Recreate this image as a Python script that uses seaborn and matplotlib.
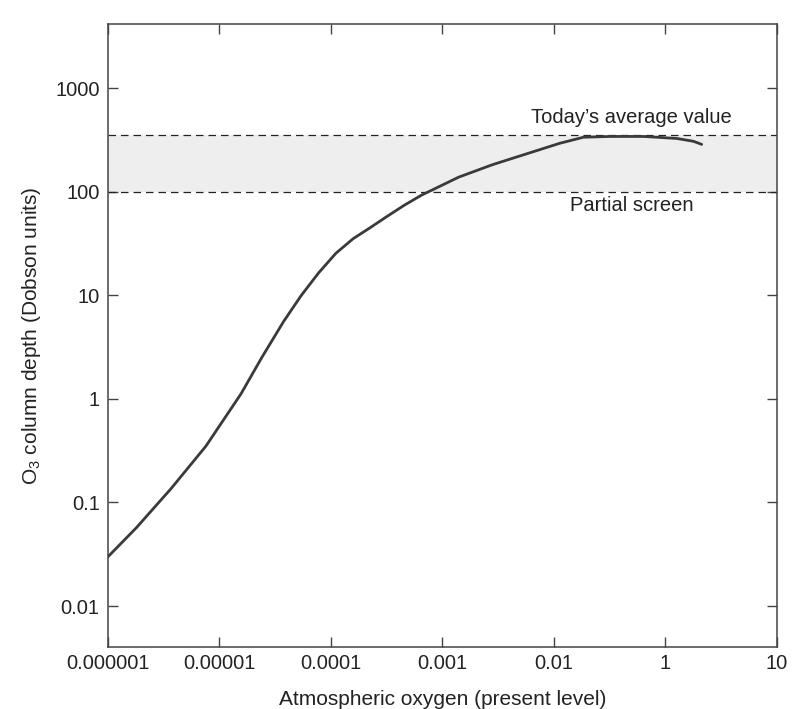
import numpy as np
import pandas as pd
import matplotlib
matplotlib.use("Agg")
import matplotlib.pyplot as plt
import seaborn as sns
from matplotlib.ticker import FixedLocator, FixedFormatter, NullLocator

# ---- data ----
oxygen = [1.0e-6, 1.8e-6, 3.68e-6, 7.55e-6, 1.56e-5, 2.4e-5, 3.75e-5, 5.4e-5,
          7.74e-5, 1.107e-4, 1.58e-4, 2.25e-4, 3.19e-4, 4.54e-4, 6.47e-4,
          1.40e-3, 2.81e-3, 5.64e-3, 1.13e-2, 1.84e-2, 3.19e-2, 6.37e-2,
          0.127, 0.179, 0.212]
ozone = [0.0299, 0.0571, 0.136, 0.349, 1.117, 2.51, 5.55, 9.91,
         16.4, 25.4, 35.1, 44.9, 57.7, 73.8, 92.3,
         138, 182, 231, 293, 335, 341, 341,
         326, 306, 286]

today_value = 355      # upper dashed line
partial_value = 100    # lower dashed line

x_tick_values = [1e-6, 1e-5, 1e-4, 1e-3, 1e-2, 1e-1, 1e0]
x_tick_labels = ["0.000001", "0.00001", "0.0001", "0.001", "0.01", "1", "10"]
y_tick_values = [0.01, 0.1, 1, 10, 100, 1000]
y_tick_labels = ["0.01", "0.1", "1", "10", "100", "1000"]

x_label = "Atmospheric oxygen (present level)"
y_label = r"O$_\mathregular{3}$ column depth (Dobson units)"
label_today = "Today\u2019s average value"
label_partial = "Partial screen"

# ---- plot ----
sns.set_theme(style="ticks")
plt.rcParams["font.family"] = ["Liberation Sans", "DejaVu Sans"]

fig = plt.figure(figsize=(8.0, 7.09), dpi=100)
ax = fig.add_axes([0.135, 0.0874, 0.836, 0.879])

df = pd.DataFrame({"oxygen": oxygen, "ozone": ozone})

ax.axhspan(partial_value, today_value, color="#eeeeee", lw=0, zorder=0)
ax.axhline(today_value, ls=(0, (6, 4)), color="#222222", lw=0.9, zorder=1)
ax.axhline(partial_value, ls=(0, (6, 4)), color="#222222", lw=0.9, zorder=1)

sns.lineplot(data=df, x="oxygen", y="ozone", ax=ax, color="#3a3a3a",
             lw=2.0, zorder=3)

ax.set_xscale("log")
ax.set_yscale("log")
ax.set_xlim(1e-6, 1e0)
ax.set_ylim(10 ** -2.396, 10 ** 3.62)

ax.xaxis.set_major_locator(FixedLocator(x_tick_values))
ax.xaxis.set_major_formatter(FixedFormatter(x_tick_labels))
ax.xaxis.set_minor_locator(NullLocator())
ax.yaxis.set_major_locator(FixedLocator(y_tick_values))
ax.yaxis.set_major_formatter(FixedFormatter(y_tick_labels))
ax.yaxis.set_minor_locator(NullLocator())

ax.tick_params(axis="both", which="major", direction="in", length=7,
               width=1.0, top=True, right=True, labelsize=14.5,
               color="#444444", labelcolor="#222222")
ax.tick_params(axis="x", pad=5)
ax.tick_params(axis="y", pad=6)

for s in ax.spines.values():
    s.set_color("#444444")
    s.set_linewidth(1.1)

ax.set_xlabel(x_label, fontsize=15, color="#222222", labelpad=12)
ax.set_ylabel(y_label, fontsize=15, color="#222222", labelpad=9)

ax.text(0.05, 520, label_today, ha="center", va="center", fontsize=14.5,
        color="#222222")
ax.text(0.05, 73, label_partial, ha="center", va="center", fontsize=14.5,
        color="#222222")

fig.savefig("out.png", dpi=100)
